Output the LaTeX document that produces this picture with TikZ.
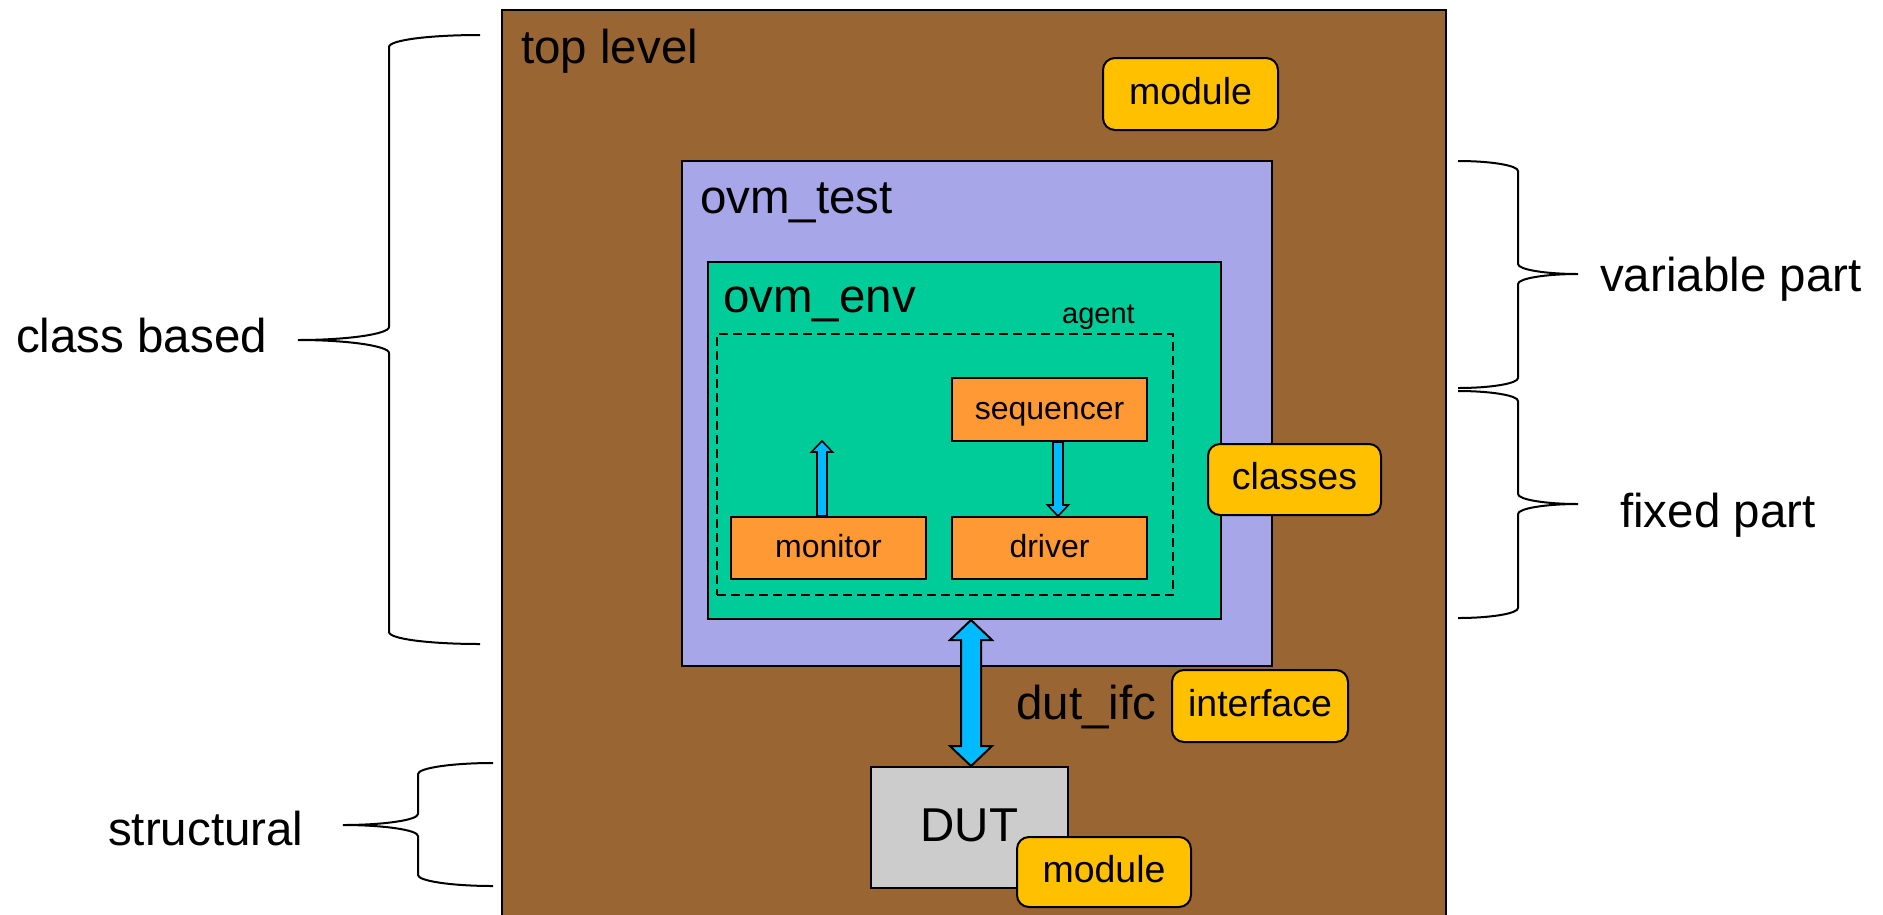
\documentclass[tikz,border=0pt]{standalone}
\usepackage{fontspec}
\setmainfont{Liberation Sans}
\usetikzlibrary{calc}
\definecolor{brownbg}{RGB}{153,102,51}
\definecolor{lavender}{RGB}{166,166,232}
\definecolor{envgreen}{RGB}{0,204,153}
\definecolor{compor}{RGB}{255,153,51}
\definecolor{tagold}{RGB}{255,192,0}
\definecolor{dutgray}{RGB}{204,204,204}
\definecolor{arrowblue}{RGB}{0,187,255}
\begin{document}
\begin{tikzpicture}[x=1pt,y=-1pt,
  bigtxt/.style={font=\fontsize{47.5}{57}\selectfont},
  midtxt/.style={font=\fontsize{37.5}{45}\selectfont},
  smalltxt/.style={font=\fontsize{32}{38}\selectfont},
  agenttxt/.style={font=\fontsize{29}{35}\selectfont},
  lbl/.style={anchor=base west, inner sep=0pt},
  boxbase/.style={draw=black, line width=2pt, anchor=north west, inner sep=0pt, rectangle},
  tagbox/.style={boxbase, fill=tagold, rounded corners=12pt, midtxt, text height=27pt, text depth=7pt},
  compbox/.style={boxbase, fill=compor, smalltxt, text height=23pt, text depth=4pt},
  barrow/.style={fill=arrowblue, draw=black, line width=1.6pt, line join=miter},
  bracepath/.style={draw=black, line width=2pt}
]
\useasboundingbox (0,0) rectangle (1883,914);
\clip (0,0) rectangle (1883,914);

% containers
\node[boxbase, fill=brownbg, minimum width=944, minimum height=940] (top) at (501,9) {};
\node[tagbox, minimum width=175, minimum height=72] (mod1) at (1102,57) {module};
\node[boxbase, fill=lavender, minimum width=590, minimum height=505] (test) at (681,160) {};
\node[boxbase, fill=envgreen, minimum width=513, minimum height=357] (env) at (707,261) {};
\node[boxbase, dash pattern=on 9pt off 5pt, minimum width=456, minimum height=261] (agent) at (716,333) {};

% components
\node[compbox, minimum width=195, minimum height=63] (seq) at (951,377) {sequencer};
\node[compbox, minimum width=195, minimum height=62] (mon) at (730,516) {monitor\hspace{12pt}};
\node[compbox, minimum width=195, minimum height=62] (drv) at (951,516) {driver};

% small arrows
\coordinate (ax1) at (822,0);
\coordinate (ax2) at (1058,0);
\coordinate (ax3) at (971,0);
\coordinate (m1) at (mon.north -| ax1);
\coordinate (montip) at (822,441);
\coordinate (s1) at (seq.south -| ax2);
\coordinate (s2) at (drv.north -| ax2);
\filldraw[barrow] ($(m1)+(-5,0)$) -- ($(montip)+(-5,11)$) -- ($(montip)+(-10.5,11)$) -- (montip)
  -- ($(montip)+(10.5,11)$) -- ($(montip)+(5,11)$) -- ($(m1)+(5,0)$) -- cycle;
\filldraw[barrow] ($(s1)+(-5,0)$) -- ($(s2)+(-5,-11)$) -- ($(s2)+(-10.5,-11)$) -- (s2)
  -- ($(s2)+(10.5,-11)$) -- ($(s2)+(5,-11)$) -- ($(s1)+(5,0)$) -- cycle;

\node[tagbox, minimum width=173, minimum height=71] (cls) at (1207,443) {classes};

% DUT and interface
\node[boxbase, fill=dutgray, minimum width=197, minimum height=121, bigtxt, text height=34pt, text depth=7pt] (dut) at (870,766) {DUT};
\node[tagbox, minimum width=176, minimum height=72] (iface) at (1171,669) {interface};
\node[tagbox, minimum width=174, minimum height=70] (mod2) at (1016,836) {module};

% big double arrow
\coordinate (d1) at (env.south -| ax3);
\coordinate (d2) at (dut.north -| ax3);
\filldraw[barrow, line width=2pt] (d1) -- ($(d1)+(21,20)$) -- ($(d1)+(10,20)$) -- ($(d2)+(10,-20)$)
  -- ($(d2)+(21,-20)$) -- (d2) -- ($(d2)+(-21,-20)$) -- ($(d2)+(-10,-20)$)
  -- ($(d1)+(-10,20)$) -- ($(d1)+(-21,20)$) -- cycle;

% labels
\node[bigtxt, lbl] (ttop) at (521,63) {top level};
\node[bigtxt, lbl] (ttest) at (700,213) {ovm\_test};
\node[bigtxt, lbl] (tenv) at (723,312) {ovm\_env};
\node[agenttxt, lbl] (tagent) at (1062,323) {agent};
\node[bigtxt, lbl] (tifc) at (1016,719) {dut\_ifc};
\node[bigtxt, lbl] (tclass) at (16,352) {class based};
\node[bigtxt, lbl] (tstruct) at (108,845) {structural};
\node[bigtxt, lbl] (tvar) at (1600,291) {variable part};
\node[bigtxt, lbl] (tfix) at (1620,527) {fixed part};

% braces
\draw[bracepath] (480,35) .. controls (430,35) and (389,40) .. (389,47) -- (389,327)
  .. controls (389,334) and (348,340) .. (298,340)
  .. controls (348,340) and (389,346) .. (389,353) -- (389,632)
  .. controls (389,639) and (430,644) .. (480,644);
\draw[bracepath] (493,763) .. controls (452,763) and (418,768) .. (418,774) -- (418,814)
  .. controls (418,820) and (384,825) .. (343,825)
  .. controls (384,825) and (418,830) .. (418,836) -- (418,875)
  .. controls (418,881) and (452,886) .. (493,886);
\draw[bracepath] (1458,161) .. controls (1491,161) and (1518,165.5) .. (1518,171) -- (1518,264)
  .. controls (1518,269.5) and (1545,274) .. (1578,274)
  .. controls (1545,274) and (1518,278.5) .. (1518,284) -- (1518,378)
  .. controls (1518,383.5) and (1491,388) .. (1458,388);
\draw[bracepath] (1458,391) .. controls (1491,391) and (1518,395.5) .. (1518,401) -- (1518,494)
  .. controls (1518,499.5) and (1545,504) .. (1578,504)
  .. controls (1545,504) and (1518,508.5) .. (1518,514) -- (1518,608)
  .. controls (1518,613.5) and (1491,618) .. (1458,618);
\end{tikzpicture}
\end{document}
